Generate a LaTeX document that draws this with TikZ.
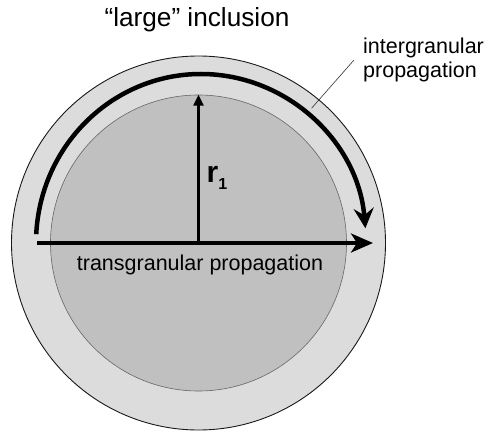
\documentclass[tikz,border=0pt]{standalone}
\usepackage{fontspec}
\setmainfont{Liberation Sans}
\usetikzlibrary{arrows.meta}
\definecolor{ringgray}{HTML}{DCDCDC}
\definecolor{coregray}{HTML}{C0C0C0}

\begin{document}
\begin{tikzpicture}[
    x=1pt, y=1pt,
    grain/.style={circle, draw=black!90, line width=0.9pt, fill=ringgray, inner sep=0pt, minimum size=374pt},
    incl/.style={circle, draw=black!60, line width=0.6pt, fill=coregray, inner sep=0pt, minimum size=296pt},
    crack/.style={line width=4.5pt, -{Stealth[length=20pt,width=20pt,inset=7pt]}},
    trans/.style={line width=3.5pt, -{Stealth[length=22pt,width=19pt,inset=6pt]}},
    radius/.style={line width=2.3pt, -{Triangle[length=11pt,width=10pt]}},
    leader/.style={line width=0.6pt, draw=black!80},
    lbl/.style={font=\fontsize{21.5}{24}\selectfont, inner sep=0pt}
  ]
  % 外枠（487x432）
  \useasboundingbox (0,0) rectangle (487,432);

  % 粒（外側リング）と介在物
  \coordinate (c) at (198.5,189);
  \node[grain] (grain) at (c) {};
  \node[incl] (incl) at (c) {};

  % 半径 r1
  \draw[radius] (c) -- (incl.north);
  \node[font=\fontsize{30}{30}\selectfont\bfseries, inner sep=0pt] (r1) at (217,254)
    {r\raisebox{-7pt}{\fontsize{16}{16}\selectfont 1}};

  % 粒内破壊（直線）
  \coordinate (tstart) at (37,189);
  \coordinate (tend) at (373,189);
  \draw[trans] (tstart) -- (tend);
  \node[lbl] (translbl) at (200,167) {transgranular propagation};

  % 粒界破壊（円弧）
  \coordinate (arcc) at (201,189);
  \draw[crack] ([shift={(177:165 and 169)}]arcc)
    arc[start angle=177, end angle=5, x radius=165, y radius=169];

  % ラベル
  \node[font=\fontsize{26.2}{28}\selectfont] (title) at (197,412) {“large” inclusion};
  \node[lbl, align=left, anchor=west, inner xsep=9pt] (interlbl) at (354,372)
    {intergranular\\propagation};
  \coordinate (ring) at ([shift={(50:176)}]c);
  \draw[leader] (interlbl.west) -- (ring);
\end{tikzpicture}
\end{document}
